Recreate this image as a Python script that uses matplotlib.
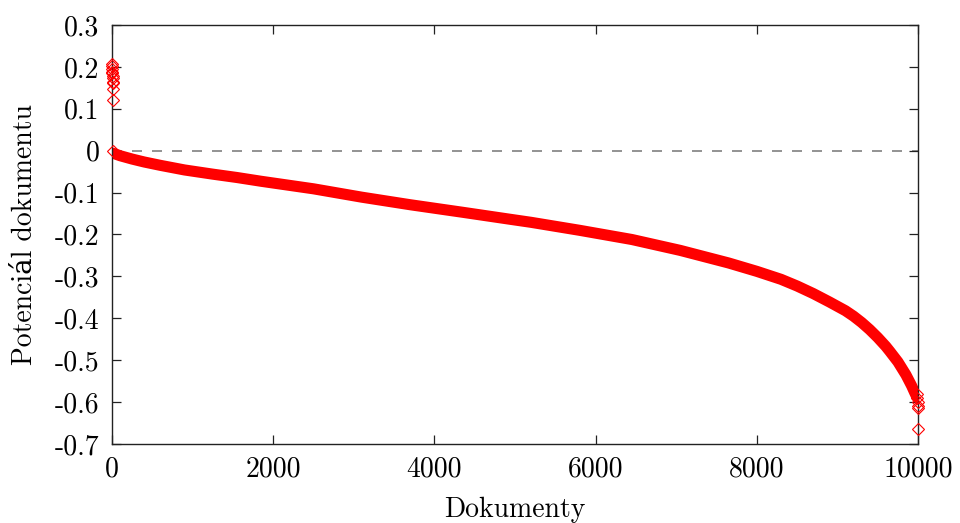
import numpy as np
import matplotlib
matplotlib.use("Agg")
import matplotlib.pyplot as plt
from matplotlib.ticker import FuncFormatter

plt.rcParams['font.family'] = ['cmr10', 'DejaVu Serif']
plt.rcParams['axes.unicode_minus'] = False
plt.rcParams['mathtext.fontset'] = 'cm'

# kladne odlehle hodnoty na zacatku serazeneho seznamu
top_docs = [1, 2, 3, 4, 5, 6, 7, 8, 9, 10, 11]
top_vals = [0.207, 0.201, 0.194, 0.189, 0.185, 0.178, 0.173, 0.165, 0.161, 0.147, 0.121]

# hlavni krivka (serazene potencialy)
curve_docs = [12, 100, 250, 400, 600, 900, 1250, 1550, 1850, 2500, 3100, 3700, 4350,
              4950, 5200, 5800, 6450, 7050, 7650, 8000, 8300, 8500, 8700, 8900, 9100,
              9200, 9300, 9400, 9500, 9600, 9650, 9750, 9850, 9920, 9960, 9985]
curve_vals = [-0.006, -0.012, -0.020, -0.027, -0.035, -0.046, -0.056, -0.064, -0.073,
              -0.091, -0.111, -0.129, -0.147, -0.164, -0.171, -0.190, -0.212, -0.238,
              -0.268, -0.288, -0.307, -0.323, -0.341, -0.361, -0.382, -0.395, -0.410,
              -0.427, -0.446, -0.467, -0.479, -0.504, -0.535, -0.561, -0.578, -0.588]

# zaporne odlehle hodnoty na konci
bottom_docs = [9990, 9993, 9995, 9997, 9999, 10000]
bottom_vals = [-0.58, -0.59, -0.60, -0.61, -0.615, -0.665]

first_doc, first_val = [12], [0.0]

xticks = [0, 2000, 4000, 6000, 8000, 10000]
yticks = [-0.7, -0.6, -0.5, -0.4, -0.3, -0.2, -0.1, 0, 0.1, 0.2, 0.3]

fig = plt.figure(figsize=(9.6, 5.23), dpi=100)
ax = fig.add_axes([0.1167, 0.1511, 0.8396, 0.8011])

ax.axhline(0, color='#808080', lw=1.2, dashes=(6, 6), zorder=1)
ax.plot(curve_docs, curve_vals, color='red', lw=8, solid_capstyle='round',
        solid_joinstyle='round', zorder=2)
ax.plot(top_docs + first_doc, top_vals + first_val, ls='none', marker='D', ms=5.8,
        mfc='none', mec='red', mew=0.8, zorder=3, clip_on=False)
ax.plot(bottom_docs, bottom_vals, ls='none', marker='D', ms=5.8,
        mfc='none', mec='red', mew=0.8, zorder=3, clip_on=False)

ax.set_xlim(0, 10000)
ax.set_ylim(-0.7, 0.3)
ax.set_xticks(xticks)
ax.set_yticks(yticks)
ax.yaxis.set_major_formatter(FuncFormatter(lambda v, p: '%g' % round(v, 2)))
ax.tick_params(direction='in', length=6.5, width=0.9, top=True, right=True,
               labelsize=20, pad=9, color='#222222')
for s in ax.spines.values():
    s.set_linewidth(1.0)
    s.set_color('#222222')

ax.set_xlabel('Dokumenty', fontsize=20, labelpad=10)
ax.set_ylabel('Potenciál dokumentu', fontsize=20, labelpad=12)

fig.savefig('out.png', dpi=100)
